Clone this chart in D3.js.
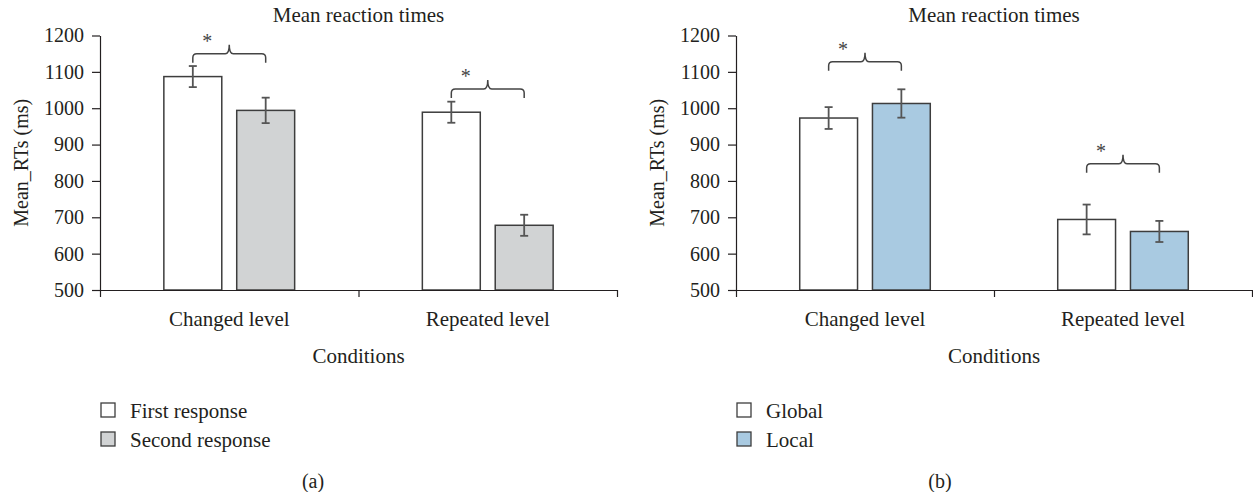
<!DOCTYPE html>
<html>
<head>
<meta charset="utf-8">
<script src="https://cdn.jsdelivr.net/npm/d3@7"></script>
<style>
  body { margin: 0; background: #fff; }
  svg { display: block; }
  text { font-family: "Liberation Serif", "Times New Roman", serif; fill: #231f20; }
</style>
</head>
<body>
<figure id="chart" style="margin:0"></figure>
<script>
// shared
const categories = ["Changed level", "Repeated level"];
const yTicks = [500, 600, 700, 800, 900, 1000, 1100, 1200];

// panel (a)
const seriesA = ["First response", "Second response"];
const firstResponse = [1087, 989];
const firstResponseErr = [29, 29];
const secondResponse = [994, 678];
const secondResponseErr = [35, 29];
const bracketA = [1150, 1053];

// panel (b)
const seriesB = ["Global", "Local"];
const globalRT = [973, 694];
const globalErr = [30, 41];
const localRT = [1013, 661];
const localErr = [39, 29];
const bracketB = [1128, 847];

const W = 1253, H = 492;
const plotTop = 35.5, plotBottom = 290;
const serif = '"Liberation Serif", "Times New Roman", serif';

const svg = d3.select("#chart").append("svg")
  .attr("width", W)
  .attr("height", H);

function drawPanel(opts) {
  const { left, right, series, values, errors, brackets, colors, tag } = opts;
  const g = svg.append("g");

  const y = d3.scaleLinear().domain([500, 1200]).range([plotBottom, plotTop]);

  const x0 = d3.scaleBand()
    .domain(categories)
    .range([left, right])
    .paddingInner(0.494)
    .paddingOuter(0.247);

  const x1 = d3.scaleBand()
    .domain(series)
    .range([0, x0.bandwidth()])
    .paddingInner(0.205);

  // x boundary ticks
  const xb = d3.scaleLinear().domain([0, categories.length]).range([left, right]);

  // title
  g.append("text")
    .attr("x", (left + right) / 2)
    .attr("y", 22)
    .attr("text-anchor", "middle")
    .style("font-size", "21px")
    .text("Mean reaction times");

  // bars
  series.forEach((s, si) => {
    g.selectAll(null)
      .data(categories)
      .enter()
      .append("rect")
      .attr("x", c => x0(c) + x1(s))
      .attr("y", (c, i) => y(values[si][i]))
      .attr("width", x1.bandwidth())
      .attr("height", (c, i) => plotBottom - y(values[si][i]))
      .attr("fill", colors[si])
      .attr("stroke", "#3d3d3d")
      .attr("stroke-width", 1.5);
  });

  // error bars
  series.forEach((s, si) => {
    categories.forEach((c, i) => {
      const cx = x0(c) + x1(s) + x1.bandwidth() / 2;
      const hi = y(values[si][i] + errors[si][i]);
      const lo = y(values[si][i] - errors[si][i]);
      const eb = g.append("g").attr("stroke", "#555").attr("stroke-width", 1.8);
      eb.append("line").attr("x1", cx).attr("x2", cx).attr("y1", hi).attr("y2", lo);
      eb.append("line").attr("x1", cx - 4).attr("x2", cx + 4).attr("y1", hi).attr("y2", hi);
      eb.append("line").attr("x1", cx - 4).attr("x2", cx + 4).attr("y1", lo).attr("y2", lo);
    });
  });

  // significance brackets
  categories.forEach((c, i) => {
    const xa = x0(c) + x1(series[0]) + x1.bandwidth() / 2;
    const xz = x0(c) + x1(series[1]) + x1.bandwidth() / 2;
    const xm = (xa + xz) / 2;
    const yh = y(brackets[i]);
    const r = 4;
    const p = d3.path();
    p.moveTo(xa, yh + 9);
    p.lineTo(xa, yh + r);
    p.quadraticCurveTo(xa, yh, xa + r, yh);
    p.lineTo(xm - r, yh);
    p.quadraticCurveTo(xm, yh, xm, yh - 9);
    p.quadraticCurveTo(xm, yh, xm + r, yh);
    p.lineTo(xz - r, yh);
    p.quadraticCurveTo(xz, yh, xz, yh + r);
    p.lineTo(xz, yh + 9);
    g.append("path")
      .attr("d", p.toString())
      .attr("fill", "none")
      .attr("stroke", "#444")
      .attr("stroke-width", 1.5);
    g.append("text")
      .attr("x", xm - 22)
      .attr("y", yh - 6)
      .attr("text-anchor", "middle")
      .style("font-size", "20px")
      .style("fill", "#444")
      .text("*");
  });

  // y axis
  const ya = g.append("g")
    .attr("transform", `translate(${left},0)`)
    .call(d3.axisLeft(y)
      .tickValues(yTicks)
      .tickFormat(d3.format("d"))
      .tickSize(8)
      .tickSizeOuter(0)
      .tickPadding(8));
  ya.attr("font-family", serif).attr("font-size", 20);
  ya.selectAll("text").style("font-family", serif).style("font-size", "20px").attr("fill", "#231f20");

  // x axis
  const xa = g.append("g")
    .attr("transform", `translate(0,${plotBottom})`)
    .call(d3.axisBottom(xb).tickValues([0, 1, 2]).tickSize(7).tickSizeOuter(0).tickFormat(""));

  [ya, xa].forEach(a => {
    a.select(".domain").attr("stroke", "#231f20").attr("stroke-width", 1.2);
    a.selectAll(".tick line").attr("stroke", "#231f20").attr("stroke-width", 1.2);
  });

  // category labels
  g.selectAll(null)
    .data(categories)
    .enter()
    .append("text")
    .attr("x", c => x0(c) + x0.bandwidth() / 2)
    .attr("y", 326)
    .attr("text-anchor", "middle")
    .style("font-size", "21px")
    .text(c => c);

  g.append("text")
    .attr("x", (left + right) / 2)
    .attr("y", 363)
    .attr("text-anchor", "middle")
    .style("font-size", "21px")
    .text("Conditions");

  // y label
  g.append("text")
    .attr("transform", `translate(${left - 79},${(plotTop + plotBottom) / 2}) rotate(-90)`)
    .attr("text-anchor", "middle")
    .attr("dy", "0.35em")
    .style("font-size", "20px")
    .text("Mean_RTs (ms)");

  // legend
  series.forEach((s, si) => {
    const ly = 403 + si * 29;
    g.append("rect")
      .attr("x", left + 1)
      .attr("y", ly)
      .attr("width", 14)
      .attr("height", 14)
      .attr("fill", colors[si])
      .attr("stroke", "#3d3d3d")
      .attr("stroke-width", 1.3);
    g.append("text")
      .attr("x", left + 30)
      .attr("y", ly + 15)
      .style("font-size", "21px")
      .text(s);
  });

  // panel tag
  g.append("text")
    .attr("x", opts.tagX)
    .attr("y", 488)
    .attr("text-anchor", "middle")
    .style("font-size", "20px")
    .text(tag);
}

drawPanel({
  left: 100, right: 617,
  series: seriesA,
  values: [firstResponse, secondResponse],
  errors: [firstResponseErr, secondResponseErr],
  brackets: bracketA,
  colors: ["#ffffff", "#d1d3d4"],
  tag: "(a)", tagX: 313
});

drawPanel({
  left: 736, right: 1252,
  series: seriesB,
  values: [globalRT, localRT],
  errors: [globalErr, localErr],
  brackets: bracketB,
  colors: ["#ffffff", "#a9cae1"],
  tag: "(b)", tagX: 940
});
</script>
</body>
</html>
